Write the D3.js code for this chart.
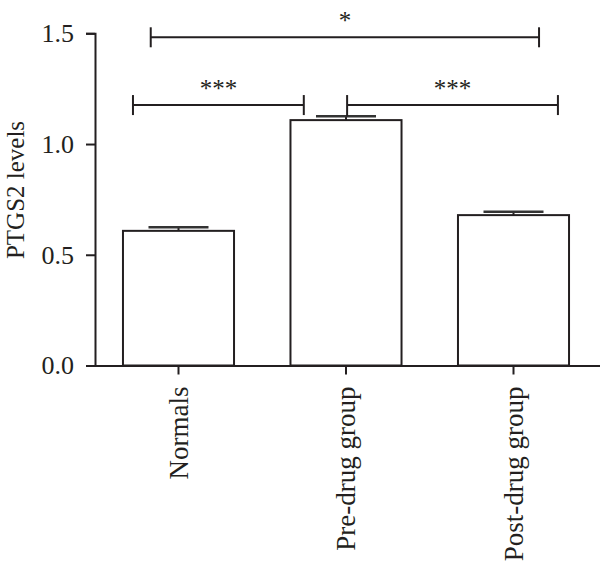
<!DOCTYPE html>
<html>
<head>
<meta charset="utf-8">
<script src="https://cdn.jsdelivr.net/npm/d3@7"></script>
<style>
html,body{margin:0;padding:0;background:#fff;}
svg{display:block;}
text{font-family:"Liberation Serif","Times New Roman",serif;fill:#231f20;}
</style>
</head>
<body>
<svg id="chart" width="600" height="571"></svg>
<script>
const categories = ["Normals", "Pre-drug group", "Post-drug group"];
const means = [0.608, 1.108, 0.679];
const sems = [0.016, 0.017, 0.015];
const yTicks = [0.0, 0.5, 1.0, 1.5];
const yLabel = "PTGS2 levels";
// significance brackets: from/to category index, fractional position within band, level
const sigFrom = [0, 0, 1];
const sigFromFrac = [0.25, 0.09, 0.51];
const sigTo = [2, 1, 2];
const sigToFrac = [0.73, 0.12, 0.9];
const sigLevel = [1.482, 1.176, 1.176];
const sigLabel = ["*", "***", "***"];

const svg = d3.select("#chart");
const ink = "#231f20";

const x = d3.scaleBand().domain(categories).range([95, 597]).paddingInner(0.337).paddingOuter(0.167);
const y = d3.scaleLinear().domain([0, 1.5]).range([365.5, 33.3]);

// bars
const data = categories.map((c, i) => ({c, m: means[i], s: sems[i]}));
svg.append("g").selectAll("rect").data(data).join("rect")
  .attr("x", d => x(d.c)).attr("y", d => y(d.m))
  .attr("width", x.bandwidth()).attr("height", d => y(0) - y(d.m))
  .attr("fill", "#fff").attr("stroke", ink).attr("stroke-width", 2);

// error bars (upper)
const eb = svg.append("g").attr("stroke", ink).attr("stroke-width", 2);
eb.selectAll("line.v").data(data).join("line").attr("class", "v")
  .attr("x1", d => x(d.c) + x.bandwidth() / 2).attr("x2", d => x(d.c) + x.bandwidth() / 2)
  .attr("y1", d => y(d.m)).attr("y2", d => y(d.m + d.s));
eb.selectAll("line.c").data(data).join("line").attr("class", "c")
  .attr("x1", d => x(d.c) + x.bandwidth() / 2 - 30).attr("x2", d => x(d.c) + x.bandwidth() / 2 + 30)
  .attr("y1", d => y(d.m + d.s)).attr("y2", d => y(d.m + d.s)).attr("stroke", "#333").attr("stroke-width", 2.5);

// axes
const yAxis = svg.append("g").attr("transform", "translate(95,0)")
  .call(d3.axisLeft(y).tickValues(yTicks).tickFormat(d3.format(".1f")).tickSizeOuter(0).tickSize(9).tickPadding(12));
const xAxis = svg.append("g").attr("transform", `translate(0,${y(0)})`)
  .call(d3.axisBottom(x).tickSizeOuter(0).tickSize(9).tickPadding(12));
xAxis.select(".domain").attr("d", `M86,0.5H600`);
[yAxis, xAxis].forEach(g => {
  g.select(".domain").attr("stroke", ink).attr("stroke-width", 2);
  g.selectAll(".tick line").attr("stroke", ink).attr("stroke-width", 2);
});
yAxis.selectAll(".tick text").attr("font-size", 26).attr("font-family", "Liberation Serif").attr("fill", ink);
xAxis.selectAll(".tick text").attr("font-size", 27).attr("font-family", "Liberation Serif").attr("fill", ink)
  .attr("text-anchor", "end").attr("transform", "rotate(-90)")
  .attr("x", -21).attr("y", 0).attr("dy", "0.35em");

// y label
svg.append("text").attr("transform", `translate(24,190) rotate(-90)`)
  .attr("text-anchor", "middle").attr("font-size", 25).attr("font-family", "Liberation Serif").text(yLabel);

// significance brackets
const sg = svg.append("g");
sigLabel.forEach((lab, i) => {
  const x1 = x(categories[sigFrom[i]]) + sigFromFrac[i] * x.bandwidth();
  const x2 = x(categories[sigTo[i]]) + sigToFrac[i] * x.bandwidth();
  const yy = y(sigLevel[i]);
  const g = sg.append("g").attr("stroke", ink).attr("stroke-width", 2);
  g.append("line").attr("x1", x1).attr("x2", x2).attr("y1", yy).attr("y2", yy);
  g.append("line").attr("x1", x1).attr("x2", x1).attr("y1", yy - 10)
    .attr("y2", i === 2 ? y(means[1] + sems[1]) : yy + 10);
  g.append("line").attr("x1", x2).attr("x2", x2).attr("y1", yy - 10).attr("y2", yy + 10);
  sg.append("text").attr("x", (x1 + x2) / 2).attr("y", yy - 8)
    .attr("text-anchor", "middle").attr("font-size", 25).attr("fill", "#333")
    .attr("font-family", "DejaVu Sans").text(lab);
});
</script>
</body>
</html>
